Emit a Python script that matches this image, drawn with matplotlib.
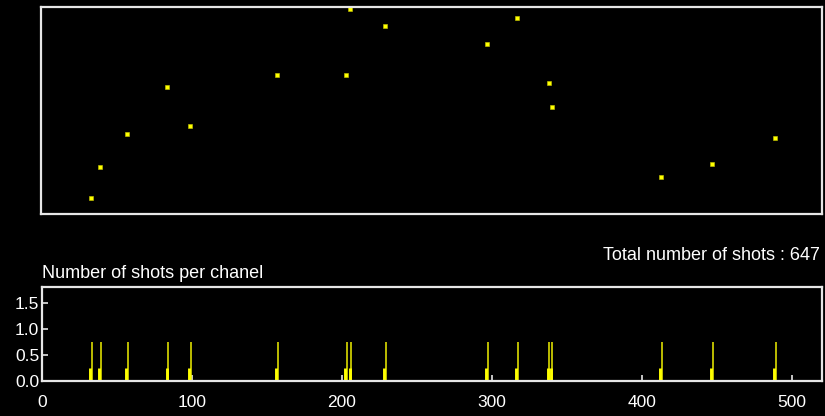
import numpy as np
import matplotlib
matplotlib.use('Agg')
from matplotlib import pyplot as plt

# channel positions and per-channel values
chanels = [33, 39, 57, 84, 99, 157, 203, 206, 229, 297, 317, 338, 340, 413, 447, 489]
values = [0.076, 0.228, 0.388, 0.612, 0.424, 0.670, 0.670, 0.990, 0.910,
          0.823, 0.945, 0.634, 0.518, 0.177, 0.243, 0.366]
shots_tall = [0.75] * len(chanels)
shots_short = [0.25] * len(chanels)
total_shots = 647

x_ticks = [0, 100, 200, 300, 400, 500]
y_ticks = [0.0, 0.5, 1.0, 1.5]

yellow = '#ffff00'
frame = '#e6e6e6'
plt.rcParams['font.family'] = ['Liberation Sans', 'DejaVu Sans']

fig = plt.figure(figsize=(8.25, 4.16), dpi=100, facecolor='black')

# top panel: values per chanel
ax1 = fig.add_axes([41/825, 1 - 214/416, 781/825, 207/416], facecolor='black')
ax1.scatter(chanels, values, marker='s', s=5, color=yellow, edgecolors='#c8c800', linewidths=0.4)
ax1.set_xlim(0, 520)
ax1.set_ylim(0, 1.0)
ax1.set_xticks([])
ax1.set_yticks([])
for sp in ax1.spines.values():
    sp.set_color(frame)
    sp.set_linewidth(1.6)

# bottom panel: number of shots per chanel
ax2 = fig.add_axes([42/825, 1 - 381/416, 780/825, 94/416], facecolor='black')
ax2.vlines(chanels, 0, shots_tall, color='#f0f000', linewidth=1.1)
ax2.vlines(np.array(chanels) - 0.8, 0, shots_short, color=yellow, linewidth=2.1)
ax2.set_xlim(0, 520)
ax2.set_ylim(0, 1.8)
ax2.set_xticks(x_ticks)
ax2.set_yticks(y_ticks)
ax2.set_yticklabels(['%.1f' % v for v in y_ticks])
ax2.tick_params(axis='both', colors=frame, direction='in', length=4, width=1.2,
                labelsize=12.5, labelcolor='white')
ax2.tick_params(axis='x', pad=10)
ax2.tick_params(axis='y', pad=2)
for sp in ax2.spines.values():
    sp.set_color(frame)
    sp.set_linewidth(1.6)

fig.text(820/825, 1 - 255/416, 'Total number of shots : %d' % total_shots,
         color='white', fontsize=13, ha='right', va='center')
fig.text(42/825, 1 - 273/416, 'Number of shots per chanel',
         color='white', fontsize=13, ha='left', va='center')

fig.savefig('out.png', dpi=100, facecolor='black')
